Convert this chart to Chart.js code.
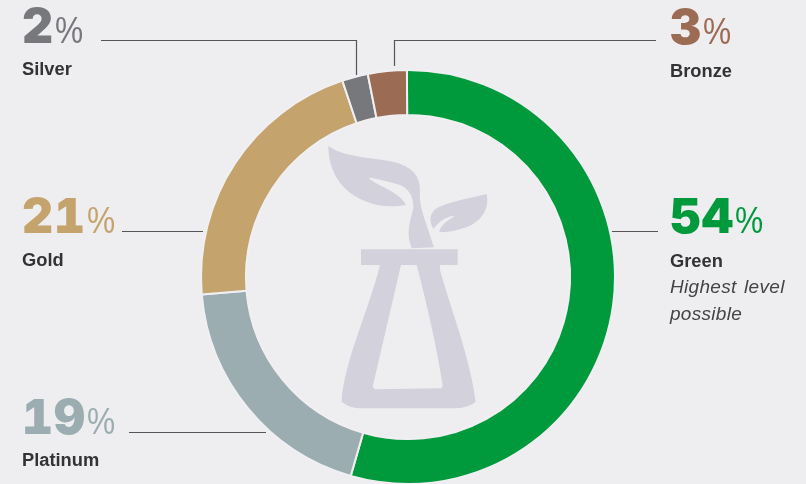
<!DOCTYPE html>
<html>
<head>
<meta charset="utf-8">
<script src="https://cdn.jsdelivr.net/npm/chart.js@4"></script>
<style>
  html, body { margin: 0; padding: 0; background: #eeeef1; }
  #wrap { position: relative; width: 806px; height: 484px; overflow: hidden; font-family: "Liberation Sans", sans-serif; }
  #icon { position: absolute; left: 0; top: 0; }
  #holder { position: absolute; left: 0; top: 0; width: 806px; height: 554px; }
  .num { position: absolute; font-family: Inter, sans-serif; font-size: 48px; line-height: 50px; font-weight: 900; font-variant-numeric: tabular-nums; letter-spacing: 1px; white-space: nowrap; }
  .num span { display: inline-block; font-family: "Liberation Sans", sans-serif; font-weight: normal; font-size: 36px; letter-spacing: 0; margin-left: 1px; transform: scaleX(0.88); transform-origin: left center; }
  .name { position: absolute; font-size: 18.3px; line-height: 20px; font-weight: bold; color: #333; white-space: nowrap; }
  .note { position: absolute; font-size: 19px; line-height: 26.5px; font-style: italic; color: #444; word-spacing: 2px; letter-spacing: 0.3px; white-space: nowrap; }
</style>
</head>
<body>
<div id="wrap">
  <svg id="icon" width="806" height="484">
    <g transform="translate(320 130) scale(0.3333)" fill="#d2d1dc">
      <path d="M25 48 C60 75 130 82 190 90 C260 100 300 125 300 180 C295 230 320 280 342 352 L275 355 C258 310 268 280 280 235 C282 200 265 175 240 165 C205 155 170 145 145 143 C175 170 240 185 258 225 C220 232 175 230 140 215 C70 190 25 130 25 48Z"/>
      <path d="M500 192 C510 240 480 280 430 295 C405 303 380 308 358 306 C360 285 385 270 405 257 C380 258 355 275 340 297 C325 270 330 245 355 232 C400 212 450 205 500 192Z"/>
      <path fill-rule="evenodd" d="M123 358 L413 358 L413 405 L360 405 L360 420 C390 530 450 680 467 815 C450 830 420 835 400 835 L130 835 C100 835 80 828 65 815 C70 700 150 530 180 405 L123 405Z M243 405 L158 770 L165 778 L365 775 L368 765 C350 650 320 520 290 405Z"/>
    </g>
  </svg>
  <div id="holder"><canvas id="ringChart"></canvas></div>
</div>
<script>
const categories = ['Green', 'Platinum', 'Gold', 'Silver', 'Bronze'];
const shares = [54, 19, 21, 2, 3];
const sliceColors = ['#009a3d', '#9cadb2', '#c4a36c', '#77787b', '#9c6b53'];

// where each label sits on the page: left edge, top of number, top of name
const labelSpots = [
  [670, 191, 251],
  [22, 392, 450],
  [22, 191, 250],
  [22, 1, 59],
  [670, 2, 61]
];

// leader lines, page pixels
const leaders = [
  [[612, 231.5], [658, 231.5]],
  [[129, 432.5], [266, 432.5]],
  [[122, 231.5], [203, 231.5]],
  [[101, 40.5], [356.5, 40.5], [356.5, 75]],
  [[394.5, 66], [394.5, 40.5], [656, 40.5]]
];

const wrap = document.getElementById('wrap');

categories.forEach((name, i) => {
  const num = document.createElement('div');
  num.className = 'num';
  num.style.left = labelSpots[i][0] + 'px';
  num.style.top = labelSpots[i][1] + 'px';
  num.style.color = sliceColors[i];
  num.innerHTML = shares[i] + '<span>%</span>';
  wrap.appendChild(num);

  const lab = document.createElement('div');
  lab.className = 'name';
  lab.style.left = labelSpots[i][0] + 'px';
  lab.style.top = labelSpots[i][2] + 'px';
  lab.textContent = name;
  wrap.appendChild(lab);
});

const note = document.createElement('div');
note.className = 'note';
note.style.left = '670px';
note.style.top = '274px';
note.innerHTML = 'Highest level<br>possible';
wrap.appendChild(note);

const leaderLines = {
  id: 'leaderLines',
  afterDraw(chart) {
    const c = chart.ctx;
    c.save();
    c.strokeStyle = '#555';
    c.lineWidth = 1.2;
    leaders.forEach((pts) => {
      c.beginPath();
      pts.forEach((p, i) => (i ? c.lineTo(p[0], p[1]) : c.moveTo(p[0], p[1])));
      c.stroke();
    });
    c.restore();
  }
};

new Chart(document.getElementById('ringChart'), {
  type: 'doughnut',
  data: {
    labels: categories,
    datasets: [{
      data: shares,
      backgroundColor: sliceColors,
      borderColor: '#f0f0f3',
      borderWidth: 2,
      hoverOffset: 0
    }]
  },
  options: {
    responsive: true,
    maintainAspectRatio: false,
    animation: false,
    cutout: '78.3%',
    rotation: -0.3,
    layout: { padding: { left: 10, top: 69, bottom: 69 } },
    plugins: { legend: { display: false }, tooltip: { enabled: false } }
  },
  plugins: [leaderLines]
});
</script>
</body>
</html>
